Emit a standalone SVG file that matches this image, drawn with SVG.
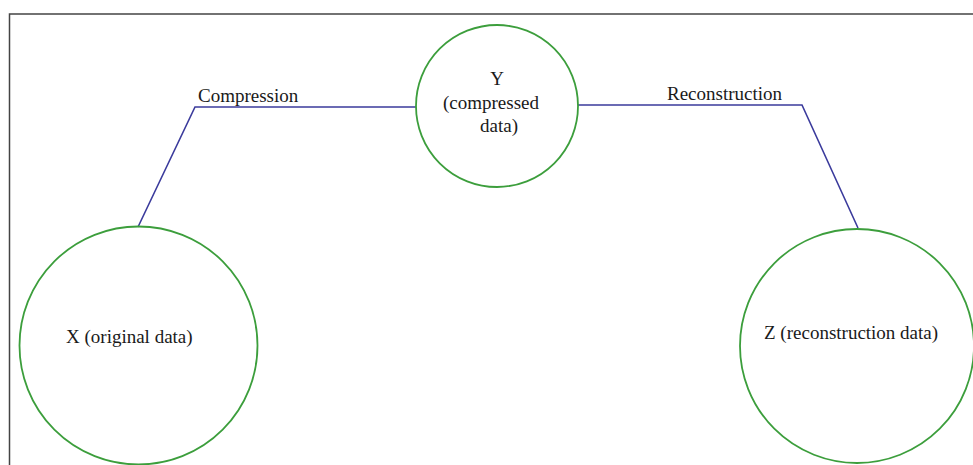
<svg xmlns="http://www.w3.org/2000/svg" width="973" height="465" viewBox="0 0 973 465">
<style>
.node{fill:none;stroke:#3c9e3c;stroke-width:1.8}
.conn{fill:none;stroke:#3b3b9c;stroke-width:1.6}
text{font-family:"Liberation Serif","Times New Roman",serif;font-size:19px;fill:#1a1a1a}
</style>
<rect width="973" height="465" fill="#fff"/>
<path d="M9.5,465 V14 H973" fill="none" stroke="#444" stroke-width="1.5"/>
<g id="connectors">
<path class="conn" d="M138,227 L195,107 H416"/>
<path class="conn" d="M578,105 H802 L858,228"/>
<text x="198" y="102">Compression</text>
<text x="667" y="100">Reconstruction</text>
</g>
<g id="node-x">
<circle class="node" cx="138.5" cy="345.5" r="119"/>
<text x="66" y="343">X (original data)</text>
</g>
<g id="node-y">
<circle class="node" cx="497" cy="106" r="81"/>
<text x="497" y="85" text-anchor="middle">Y</text>
<text x="491" y="109" text-anchor="middle">(compressed</text>
<text x="499" y="132" text-anchor="middle">data)</text>
</g>
<g id="node-z">
<circle class="node" cx="857" cy="346" r="117"/>
<text x="764" y="339">Z (reconstruction data)</text>
</g>
</svg>
